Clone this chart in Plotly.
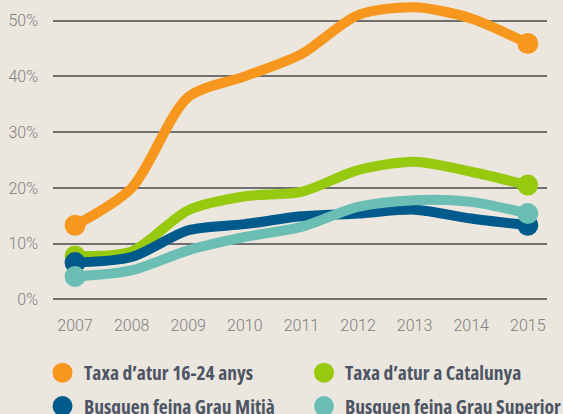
import plotly.graph_objects as go

years = [2007, 2008, 2009, 2010, 2011, 2012, 2013, 2014, 2015]
youth = [13.3, 20.0, 36.3, 40.0, 44.0, 51.0, 52.4, 50.4, 45.9]
catalunya = [7.8, 8.6, 16.0, 18.5, 19.3, 23.2, 24.7, 22.9, 20.5]
grau_mitja = [6.6, 7.6, 12.4, 13.5, 14.9, 15.4, 16.1, 14.5, 13.3]
grau_superior = [4.1, 5.2, 8.8, 11.2, 13.0, 16.6, 17.8, 17.5, 15.4]
y_ticks = [0, 10, 20, 30, 40, 50]
y_tick_labels = ["0%", "10%", "20%", "30%", "40%", "50%"]

series = [
    ("Taxa d’atur 16-24 anys", youth, "#F7971E"),
    ("Taxa d’atur a Catalunya", catalunya, "#97C90E"),
    ("Busquen feina Grau Mitjà", grau_mitja, "#005A8B"),
    ("Busquen feina Grau Superior", grau_superior, "#6BBEB4"),
]

W, H = 563, 414
L, R = 53, 16
y_range = [-1, 53.7]
plot_h = 304.7
T = 0
B = H - plot_h

fig = go.Figure()
for name, vals, color in series:
    fig.add_trace(go.Scatter(
        x=years, y=vals, mode="lines", name=name,
        line=dict(color=color, width=10, shape="spline", smoothing=0.8),
        showlegend=False, hoverinfo="skip"))
    fig.add_trace(go.Scatter(
        x=[years[0], years[-1]], y=[vals[0], vals[-1]], mode="markers",
        marker=dict(color=color, size=21), showlegend=False,
        cliponaxis=False, hoverinfo="skip"))

plot_w = W - L - R
def px_x(p):
    return (p - L) / plot_w
def px_y(p):
    return (plot_h - p) / plot_h

legend_style = "font-family:'Open Sans';font-weight:bold;font-stretch:condensed"
legend_pos = [(62.5, 82, 372.3), (324, 343, 372.3), (62.5, 82, 405.7), (324, 343, 405.7)]
shapes = []
annotations = []
for (name, vals, color), (cx, tx, cy) in zip(series, legend_pos):
    shapes.append(dict(type="circle", xref="paper", yref="paper",
                       xsizemode="pixel", ysizemode="pixel",
                       xanchor=px_x(cx), yanchor=px_y(cy),
                       x0=-10, x1=10, y0=-10, y1=10,
                       fillcolor=color, line=dict(width=0)))
    annotations.append(dict(text=f'<span style="{legend_style}">{name}</span>',
                            xref="paper", yref="paper",
                            x=px_x(tx), y=px_y(cy), xanchor="left", yanchor="middle",
                            showarrow=False,
                            font=dict(size=19.5, color="#4D5565")))

tick_font = dict(family="Roboto, Liberation Sans, sans-serif", size=16, color="#808080", weight=300)

fig.update_layout(
    width=W, height=H,
    margin=dict(l=L, r=R, t=T, b=B, pad=0, autoexpand=False),
    paper_bgcolor="#EBE7DE", plot_bgcolor="#EBE7DE",
    shapes=shapes, annotations=annotations,
    xaxis=dict(range=[2006.61, 2015.34], tickvals=years, ticktext=[str(y) for y in years],
               showgrid=False, zeroline=False, showline=False, ticks="",
               tickfont=tick_font, ticklabelstandoff=9, automargin=False),
    yaxis=dict(range=y_range, tickvals=y_ticks, ticktext=y_tick_labels,
               showgrid=True, gridcolor="#707070", gridwidth=1.5,
               zeroline=False, showline=False, ticks="",
               tickfont=tick_font, ticklabelstandoff=14, automargin=False),
)

fig.write_html("out.html", config={"displayModeBar": False},
               post_script="document.body.style.margin='0';")
